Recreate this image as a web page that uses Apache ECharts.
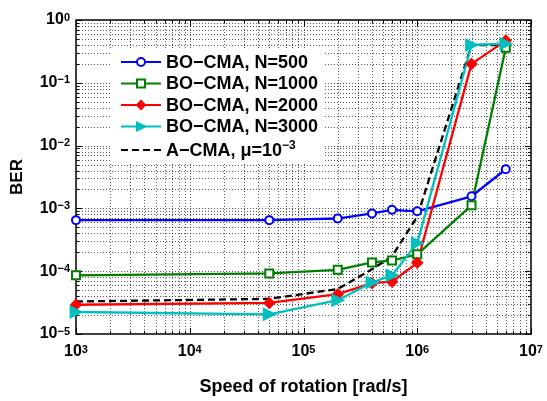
<!DOCTYPE html>
<html><head><meta charset="utf-8">
<script src="https://cdn.jsdelivr.net/npm/echarts@6/dist/echarts.min.js"></script>
<style>html,body{margin:0;padding:0;background:#fff}#c{width:547px;height:401px}</style>
</head><body><div id="c"></div>
<script>
// ---- data ----
const speeds   = [1e3, 5e4, 2e5, 4e5, 6e5, 1e6, 3e6, 6e6];
const berN500  = [6.5e-4, 6.5e-4, 6.9e-4, 8.3e-4, 9.5e-4, 9.0e-4, 1.56e-3, 4.2e-3];
const berN1000 = [8.6e-5, 9.2e-5, 1.05e-4, 1.38e-4, 1.48e-4, 1.86e-4, 1.12e-3, 0.36];
const berN2000 = [2.92e-5, 3.13e-5, 4.3e-5, 6.45e-5, 6.8e-5, 1.36e-4, 0.2, 0.47];
const berN3000 = [2.24e-5, 2.06e-5, 3.45e-5, 6.6e-5, 8.6e-5, 2.8e-4, 0.4, 0.42];
const berACMA  = [3.29e-5, 3.63e-5, 5.2e-5, 1.07e-4, 1.73e-4, 7.4e-4, 0.4, 0.4];
const seriesNames = ['BO−CMA, N=500', 'BO−CMA, N=1000', 'BO−CMA, N=2000', 'BO−CMA, N=3000', 'A−CMA, μ=10−3'];
const xDecades = [3, 4, 5, 6, 7];
const yDecades = [-5, -4, -3, -2, -1, 0];
const minorMult = [2, 3, 4, 5, 6, 7, 8, 9];

const FONT = "'Liberation Sans', Arial, Helvetica, sans-serif";

function pairs(ys){ return speeds.map((x,i)=>[x, ys[i]]); }
function supLabel(v){
  const e = Math.round(Math.log10(v));
  const s = e < 0 ? '−' + Math.abs(e) : String(e);
  return '{b|10}{s|' + s + '}';
}
const richTick = {
  b: {fontSize: 16, fontWeight: 'bold', fontFamily: FONT, color: '#000', lineHeight: 16, verticalAlign: 'bottom'},
  s: {fontSize: 11, fontWeight: 'bold', fontFamily: FONT, color: '#000', lineHeight: 11, verticalAlign: 'top', padding: [0,0,10,0]}
};

// grid line positions (majors + minors per decade)
const xGridData = [];
xDecades.forEach((k,i)=>{ xGridData.push([Math.pow(10,k), 1e-2, 1]);
  if (i < xDecades.length-1) minorMult.forEach(m=>xGridData.push([m*Math.pow(10,k), 1e-2, 0])); });
const yGridData = [];
yDecades.forEach((k,i)=>{ yGridData.push([1e4, Math.pow(10,k), 1]);
  if (i < yDecades.length-1) minorMult.forEach(m=>yGridData.push([1e4, m*Math.pow(10,k), 0])); });

const gridStroke = {stroke: 'rgba(0,0,0,0.65)', lineWidth: 1, lineDash: [1, 2]};
const tickStroke = {stroke: '#000', lineWidth: 1};

function renderV(params, api){
  const cs = params.coordSys;
  const p = api.coord([api.value(0), api.value(1)]);
  const x = Math.round(p[0]) + 0.5;
  const major = api.value(2) === 1;
  const tl = major ? 6 : 3;
  const ch = [];
  if (x > cs.x + 2 && x < cs.x + cs.width - 2)
    ch.push({type:'line', shape:{x1:x, y1:cs.y, x2:x, y2:cs.y+cs.height}, style: gridStroke});
  ch.push({type:'line', shape:{x1:x, y1:cs.y+cs.height, x2:x, y2:cs.y+cs.height-tl}, style: tickStroke});
  ch.push({type:'line', shape:{x1:x, y1:cs.y, x2:x, y2:cs.y+tl}, style: tickStroke});
  return {type:'group', children: ch};
}
function renderH(params, api){
  const cs = params.coordSys;
  const p = api.coord([api.value(0), api.value(1)]);
  const y = Math.round(p[1]) + 0.5;
  const major = api.value(2) === 1;
  const tl = major ? 6 : 3;
  const ch = [];
  if (y > cs.y + 2 && y < cs.y + cs.height - 2)
    ch.push({type:'line', shape:{x1:cs.x, y1:y, x2:cs.x+cs.width, y2:y}, style: gridStroke});
  ch.push({type:'line', shape:{x1:cs.x, y1:y, x2:cs.x+tl, y2:y}, style: tickStroke});
  ch.push({type:'line', shape:{x1:cs.x+cs.width, y1:y, x2:cs.x+cs.width-tl, y2:y}, style: tickStroke});
  return {type:'group', children: ch};
}

function lineSeries(name, ys, color, symbol, size, extra){
  return Object.assign({
    name, type: 'line', data: pairs(ys), z: 5,
    symbol, symbolSize: size,
    lineStyle: {color, width: 2.3},
    itemStyle: {color, borderColor: color, borderWidth: 1.8},
    emphasis: {disabled: true}, animation: false
  }, extra || {});
}

const chart = echarts.init(document.getElementById('c'), null, {renderer: 'canvas'});
chart.setOption({
  animation: false,
  backgroundColor: '#fff',
  grid: {left: 76, right: 16, top: 20, bottom: 62, show: true, borderColor: '#000', borderWidth: 1.5, backgroundColor: '#fff'},
  xAxis: {
    type: 'log', logBase: 10, min: 1e3, max: 1e7, splitNumber: 4,
    name: 'Speed of rotation [rad/s]', nameLocation: 'middle', nameGap: 44,
    nameTextStyle: {fontSize: 18, fontWeight: 'bold', fontFamily: FONT, color: '#000'},
    axisLine: {show: false}, axisTick: {show: false}, splitLine: {show: false},
    axisLabel: {margin: 10, formatter: supLabel, rich: richTick}
  },
  yAxis: {
    type: 'log', logBase: 10, min: 1e-5, max: 1, splitNumber: 5,
    name: 'BER', nameLocation: 'middle', nameGap: 50,
    nameTextStyle: {fontSize: 17, fontWeight: 'bold', fontFamily: FONT, color: '#000'},
    axisLine: {show: false}, axisTick: {show: false}, splitLine: {show: false},
    axisLabel: {margin: 6, formatter: supLabel, rich: richTick}
  },
  legend: {
    data: seriesNames.slice(0, 4).concat([{name: seriesNames[4], itemStyle: {opacity: 0}}]),
    orient: 'vertical', left: 110, top: 50,
    backgroundColor: '#fff', padding: [4, 6, 4, 10],
    itemWidth: 40, itemHeight: 10, itemGap: 3.5,
    formatter: function(n){
      if (n.indexOf('A−CMA') === 0) return '{n|A−CMA, μ=10}{s|−3}';
      return '{n|' + n + '}';
    },
    textStyle: {
      rich: {
        n: {fontSize: 18, fontWeight: 'bold', fontFamily: FONT, color: '#000', lineHeight: 20, verticalAlign: 'bottom'},
        s: {fontSize: 12, fontWeight: 'bold', fontFamily: FONT, color: '#000', lineHeight: 12, verticalAlign: 'top', padding: [0,0,8,0]}
      }
    }
  },
  series: [
    {type: 'custom', name: 'xgrid', data: xGridData, renderItem: renderV, encode: {x: 0, y: 1}, silent: true, z: 1, clip: false},
    {type: 'custom', name: 'ygrid', data: yGridData, renderItem: renderH, encode: {x: 0, y: 1}, silent: true, z: 1, clip: false},
    lineSeries(seriesNames[0], berN500, '#0000ff', 'emptyCircle', 8),
    lineSeries(seriesNames[1], berN1000, '#008000', 'emptyRect', 8),
    lineSeries(seriesNames[2], berN2000, '#ff0000', 'diamond', 10),
    lineSeries(seriesNames[3], berN3000, '#00bfbf', 'triangle', 11, {symbolRotate: -90}),
    {
      name: seriesNames[4], type: 'line', data: pairs(berACMA), z: 4,
      symbol: 'none', showSymbol: false,
      lineStyle: {color: '#000', width: 2.3, type: [7, 4]},
      itemStyle: {color: '#000'},
      emphasis: {disabled: true}
    }
  ]
});
</script>
</body></html>
